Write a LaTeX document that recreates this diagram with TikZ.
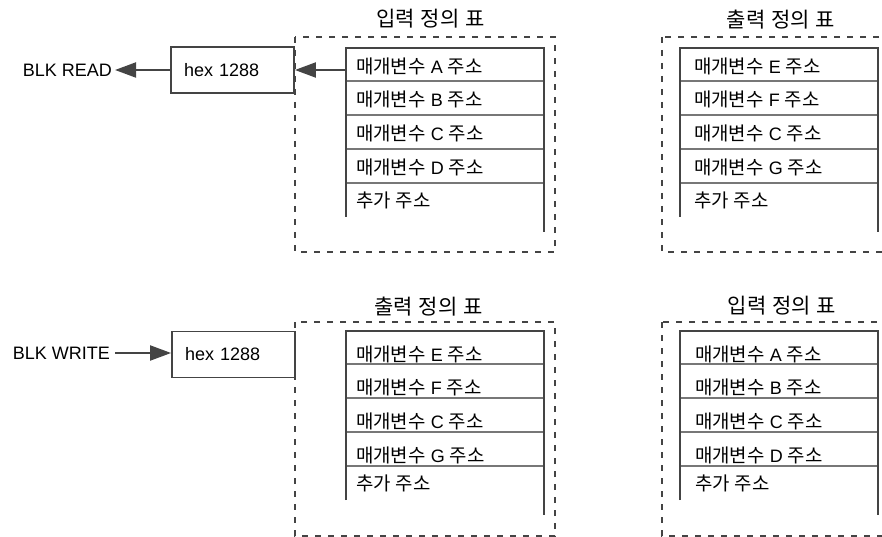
\documentclass[tikz,border=0pt]{standalone}
\usepackage{fontspec}
\setmainfont{Liberation Sans}
\newfontfamily\krfont[Scale=1.05]{Noto Sans CJK KR}
\usetikzlibrary{arrows.meta}
\newcommand\K[1]{{\krfont #1}}
\definecolor{ln}{HTML}{444444}
\definecolor{dv}{HTML}{777777}
% #1 name, #2 left x, #3 top y, #4 text inset, #5 text offset in row, #6-#9 letters
\newcommand\mytable[9]{%
 \begin{scope}[shift={(#2,#3)}]
  \draw[divider] (0,33) -- (198,33) (0,67) -- (198,67) (0,101) -- (198,101) (0,135) -- (198,135);
  \draw[outer] (0,169) -- (0,0) -- (198,0) -- (198,184);
  \node[rowtext] (#1a) at (#4,{#5}) {\K{매개변수} #6 \K{주소}};
  \node[rowtext] (#1b) at (#4,{33+#5}) {\K{매개변수} #7 \K{주소}};
  \node[rowtext] (#1c) at (#4,{67+#5}) {\K{매개변수} #8 \K{주소}};
  \node[rowtext] (#1d) at (#4,{101+#5}) {\K{매개변수} #9 \K{주소}};
  \node[rowtext] (#1e) at (#4,{135+17.5}) {\K{추가} \K{주소}};
  \coordinate (#1in) at (0,22);
 \end{scope}}
\begin{document}
\begin{tikzpicture}[x=1pt,y=-1pt,
  every node/.style={font=\fontsize{18}{21}\selectfont, text=black},
  outer/.style={draw=ln, line width=1.8pt},
  divider/.style={draw=dv, line width=1.1pt},
  frame/.style={draw=ln, line width=1.5pt, dash pattern=on 6pt off 7pt},
  hexbox/.style={draw=ln, line width=1.8pt, text width=97pt, inner xsep=13pt, minimum height=46pt, align=left},
  title/.style={font=\fontsize{20}{23}\selectfont, inner sep=0pt},
  rowtext/.style={anchor=west, inner sep=0pt},
  plain/.style={inner sep=0pt},
  arr/.style={draw=ln, line width=2pt, -{Triangle[length=21pt,width=15pt]}}]
\path[use as bounding box, clip] (0,0) rectangle (882,537);

% dashed frames
\draw[frame] (295,37) rectangle (555,252);
\draw[frame] (662,37) rectangle (900,252);
\draw[frame] (295,322) rectangle (555,536);
\draw[frame] (662,322) rectangle (900,536);

% titles
\node[title] (t1) at (430.5,19) {\K{입력}\hspace{6pt}\K{정의}\hspace{6pt}\K{표}};
\node[title] (t2) at (781,19.5) {\K{출력}\hspace{6pt}\K{정의}\hspace{6pt}\K{표}};
\node[title] (t3) at (428.5,306.5) {\K{출력}\hspace{6pt}\K{정의}\hspace{6pt}\K{표}};
\node[title] (t4) at (782,305.5) {\K{입력}\hspace{6pt}\K{정의}\hspace{6pt}\K{표}};

% tables
\mytable{ta}{346}{48}{10}{18.5}{A}{B}{C}{D}
\mytable{tb}{680}{48}{14}{18.5}{E}{F}{C}{G}
\mytable{tc}{346}{331}{10}{23.5}{E}{F}{C}{G}
\mytable{td}{680}{331}{15}{23.5}{A}{B}{C}{D}

% left side
\node[hexbox] (hexR) at (232.5,70) {hex 1288};
\node[hexbox] (hexW) at (233.5,354.5) {hex 1288};
\node[plain, anchor=east] (read) at (112,70) {BLK READ};
\node[plain, anchor=east] (write) at (110,353) {BLK WRITE};

\draw[arr] (tain) -- (tain -| hexR.east);
\draw[arr, shorten >=3pt] (hexR.west) -- (read.east);
\draw[arr, shorten <=5pt] (write.east) -- (write.east -| hexW.west);
\end{tikzpicture}
\end{document}
